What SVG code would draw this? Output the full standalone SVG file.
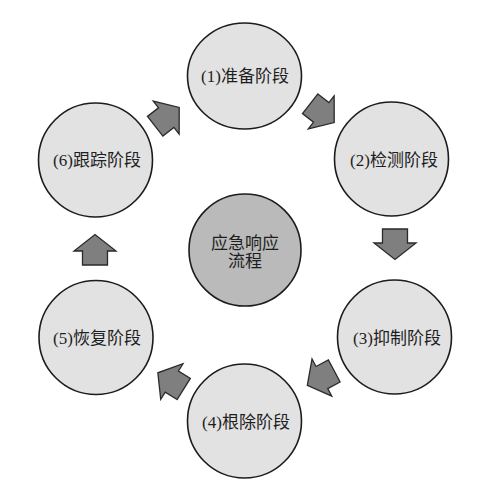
<svg xmlns="http://www.w3.org/2000/svg" width="492" height="495" viewBox="0 0 492 495">
<defs>
<style>
.stage{fill:#e2e2e2;stroke:#1c1c1c;stroke-width:1.6}
.hub{fill:#bababa;stroke:#1c1c1c;stroke-width:1.6}
.lbl{font-family:"Liberation Serif","Noto Sans CJK SC",serif;font-size:17px;fill:#1e1e1e;text-anchor:middle}
.arr{fill:#7f7f7f;stroke:#2a2a2a;stroke-width:1.3;stroke-linejoin:miter}
</style>
<polygon id="blk" points="-15,-12.5 -1,-12.5 -1,-21 15.5,0 -1,21 -1,12.5 -15,12.5"/>
</defs>
<rect width="492" height="495" fill="#ffffff"/>
<g id="connectors">
<use href="#blk" class="arr" transform="translate(167,117) rotate(-38)"/>
<use href="#blk" class="arr" transform="translate(322,113) rotate(38)"/>
<use href="#blk" class="arr" transform="translate(395,244) rotate(90)"/>
<use href="#blk" class="arr" transform="translate(321,378) rotate(152)"/>
<use href="#blk" class="arr" transform="translate(171,381) rotate(212)"/>
<use href="#blk" class="arr" transform="translate(95,250) rotate(-90)"/>
</g>
<g id="stage1">
<ellipse class="stage" cx="244.5" cy="76" rx="57" ry="53"/>
<text class="lbl" x="245" y="82">(1)准备阶段</text>
</g>
<g id="stage2">
<circle class="stage" cx="391.5" cy="159" r="57"/>
<text class="lbl" x="394" y="166">(2)检测阶段</text>
</g>
<g id="stage3">
<circle class="stage" cx="394.5" cy="337" r="57"/>
<text class="lbl" x="397" y="344">(3)抑制阶段</text>
</g>
<g id="stage4">
<circle class="stage" cx="244.5" cy="421" r="57"/>
<text class="lbl" x="246" y="428">(4)根除阶段</text>
</g>
<g id="stage5">
<circle class="stage" cx="96" cy="337.5" r="57"/>
<text class="lbl" x="97" y="344">(5)恢复阶段</text>
</g>
<g id="stage6">
<circle class="stage" cx="95.5" cy="160" r="57"/>
<text class="lbl" x="97" y="166">(6)跟踪阶段</text>
</g>
<g id="hub">
<circle class="hub" cx="245" cy="250" r="56"/>
<text class="lbl" x="245" y="249">应急响应</text>
<text class="lbl" x="245" y="267">流程</text>
</g>
</svg>
